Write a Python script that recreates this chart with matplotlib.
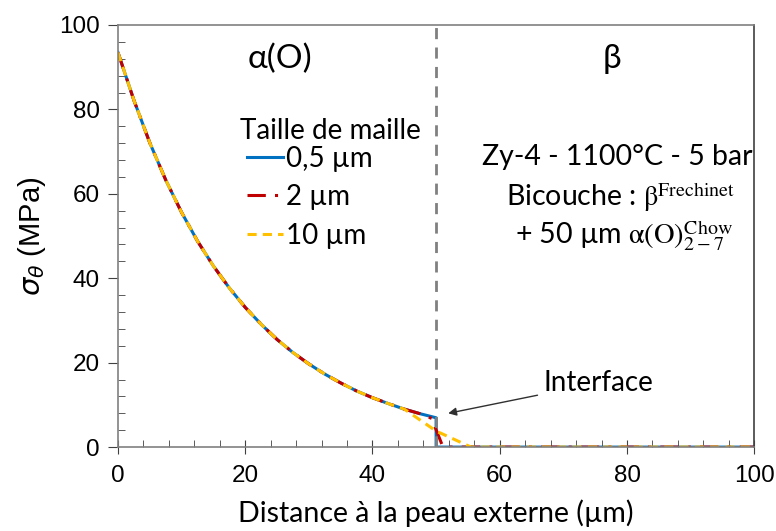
import matplotlib
matplotlib.use("Agg")
import matplotlib.pyplot as plt
from matplotlib.ticker import MultipleLocator

plt.rcParams['mathtext.fontset'] = 'stix'

# common part of the profile (alpha(O) layer)
x_common = [0, 2.5, 5, 7.5, 10, 12.5, 15, 17.5, 20, 22.5, 25, 27.5, 30,
            32.5, 35, 37.5, 40, 42.5, 45, 47.5]
y_common = [93.5, 82.2, 72.1, 63.3, 55.6, 48.8, 42.9, 37.7, 33.1, 29.1, 25.5,
            22.4, 19.7, 17.3, 15.2, 13.3, 11.7, 10.3, 9.0, 7.9]

# 0,5 um mesh
x_05 = x_common + [50, 50, 100]
y_05 = y_common + [6.95, 0, 0]
# 2 um mesh
x_2 = x_common + [49.3, 51, 52, 100]
y_2 = y_common + [6.8, 0.3, 0, 0]
# 10 um mesh
x_10 = x_common[:-1] + [50, 55.5, 100]
y_10 = y_common[:-1] + [3.8, 0, 0]

labels = ['0,5 µm', '2 µm', '10 µm']
colors = ['#0070C0', '#C00000', '#FFC000']

txt_font = 'Lato'
num_font = 'Liberation Sans'

fig = plt.figure(figsize=(7.76, 5.31), dpi=100)
ax = fig.add_axes([0.152, 0.158, 0.82, 0.795])

ax.plot(x_05, y_05, color=colors[0], lw=2.2, label=labels[0])
ax.plot(x_2, y_2, color=colors[1], lw=2.2, dashes=(6, 3, 1, 3), label=labels[1])
ax.plot(x_10, y_10, color=colors[2], lw=2.2, dashes=(3, 2), label=labels[2])

ax.axvline(50, color='#808080', lw=2, dashes=(4, 3))

ax.set_xlim(0, 100)
ax.set_ylim(0, 100)
ax.xaxis.set_major_locator(MultipleLocator(20))
ax.xaxis.set_minor_locator(MultipleLocator(4))
ax.yaxis.set_major_locator(MultipleLocator(20))
ax.yaxis.set_minor_locator(MultipleLocator(4))
ax.tick_params(axis='x', which='major', direction='inout', length=10, color='#404040', pad=8)
ax.tick_params(axis='y', which='major', direction='out', length=7, color='#404040', pad=6)
ax.tick_params(which='minor', direction='in', length=5, color='#404040')
for lab in ax.get_xticklabels() + ax.get_yticklabels():
    lab.set_fontfamily(num_font)
    lab.set_fontsize(17.5)
for s in ['left', 'bottom', 'top']:
    ax.spines[s].set_color('#808080')
ax.spines['right'].set_color('#404040')
for s in ax.spines.values():
    s.set_linewidth(1.2)

ax.set_xlabel('Distance à la peau externe (µm)', fontfamily=txt_font, fontsize=20.5, labelpad=9)
ax.set_ylabel(r'$\sigma_\theta$ (MPa)', fontfamily=num_font, fontsize=21, labelpad=8,
              math_fontfamily='dejavusans')

ax.text(25.5, 92, 'α(O)', fontfamily=txt_font, fontsize=24, ha='center', va='center')
ax.text(77.7, 92, 'β', fontfamily=txt_font, fontsize=24, ha='center', va='center')

# legend title as separate text (tighter gap than legend title)
ax.text(19.2, 74.9, 'Taille de maille', fontfamily=txt_font, fontsize=20, ha='left', va='center')
leg = ax.legend(loc='upper left', bbox_to_anchor=(0.181, 0.747), frameon=False,
                handlelength=1.3, handletextpad=0.1,
                labelspacing=0.45, borderpad=0.0,
                prop={'family': txt_font, 'size': 20})

ax.text(78.5, 68.7, 'Zy-4 - 1100°C - 5 bar', fontfamily=txt_font, fontsize=20.5, ha='center', va='center')
ax.text(79, 59.2, r'Bicouche : $\mathrm{\beta}^{\mathrm{Frechinet}}$', fontfamily=txt_font, fontsize=20.5,
        ha='center', va='center')
ax.text(79.5, 50, r'+ 50 µm $\mathrm{\alpha}(\mathrm{O})_{2-7}^{\mathrm{Chow}}$', fontfamily=txt_font,
        fontsize=20.5, ha='center', va='center')

ax.annotate('Interface', xy=(51.9, 8.0), xytext=(66.8, 15.2), fontfamily=txt_font, fontsize=20,
            va='center', ha='left',
            arrowprops=dict(arrowstyle='-|>', color='#303030', lw=1, mutation_scale=12,
                            shrinkA=2, shrinkB=0))

fig.savefig('out.png', dpi=100)
